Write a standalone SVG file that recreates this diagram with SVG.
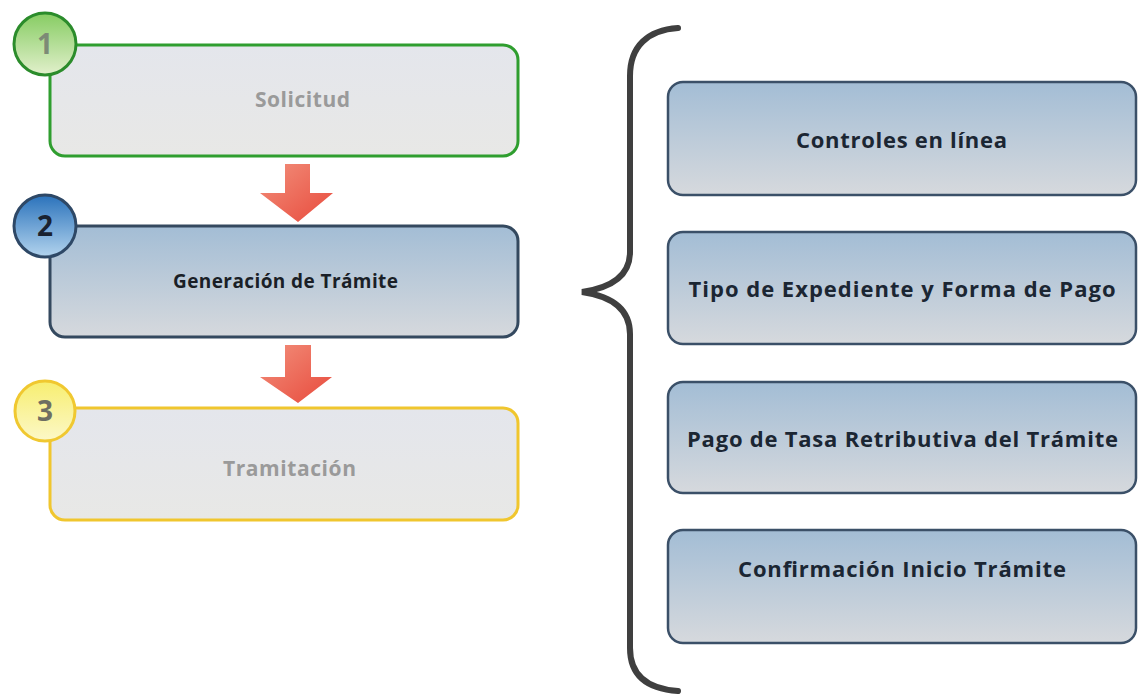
<svg xmlns="http://www.w3.org/2000/svg" width="1139" height="695" viewBox="0 0 1139 695">
<defs>
<linearGradient id="gGray" x1="0" y1="0" x2="0" y2="1"><stop offset="0" stop-color="#e4e6ec"/><stop offset="1" stop-color="#e8e8e6"/></linearGradient>
<linearGradient id="gBlue" x1="0" y1="0" x2="0" y2="1"><stop offset="0" stop-color="#a3bdd5"/><stop offset="1" stop-color="#d6d9dd"/></linearGradient>
<linearGradient id="gC1" x1="0" y1="0" x2="0" y2="1"><stop offset="0" stop-color="#86cc62"/><stop offset="1" stop-color="#e2f0cc"/></linearGradient>
<linearGradient id="gC2" x1="0" y1="0" x2="0" y2="1"><stop offset="0" stop-color="#2a72bb"/><stop offset="1" stop-color="#b3d4ee"/></linearGradient>
<linearGradient id="gC3" x1="0" y1="0" x2="0" y2="1"><stop offset="0" stop-color="#f7ee70"/><stop offset="1" stop-color="#fcf8c8"/></linearGradient>
<linearGradient id="gArrow" x1="0" y1="0" x2="1" y2="1"><stop offset="0" stop-color="#f2907c"/><stop offset="1" stop-color="#e84a3c"/></linearGradient>
</defs>
<style>
.lbl{font-family:"Open Sans","Liberation Sans",sans-serif;font-weight:700;text-anchor:middle}
.num{font-family:"Open Sans","Liberation Sans",sans-serif;font-weight:700;font-size:28px;text-anchor:middle}
.rbox{fill:url(#gBlue);stroke:#3b5068;stroke-width:2.5}
.rtxt{font-size:22px;fill:#1b2633}
.ltxt{font-size:21px}
</style>
<g id="connectors">
<path d="M285 164 H310 V193 H333 L298 222 L260 193 H285 Z" fill="url(#gArrow)"/>
<path d="M285 345 H311 V377 H332 L298 403 L260 377 H285 Z" fill="url(#gArrow)"/>
</g>
<g id="step1">
<rect x="50" y="45" width="468" height="111" rx="15" fill="url(#gGray)" stroke="#2f9e2f" stroke-width="3"/>
<circle cx="45" cy="44" r="31" fill="url(#gC1)" stroke="#2b8c2b" stroke-width="3"/>
<text class="num" x="45" y="54" fill="#7d8a76">1</text>
<text class="lbl ltxt" x="302.5" y="107" fill="#9a9a9a" textLength="95">Solicitud</text>
</g>
<g id="step2">
<rect x="50" y="226" width="468" height="111" rx="15" fill="url(#gBlue)" stroke="#34495f" stroke-width="3"/>
<circle cx="45" cy="226" r="31" fill="url(#gC2)" stroke="#2e4866" stroke-width="3"/>
<text class="num" x="45" y="236" fill="#1a2230">2</text>
<text class="lbl" x="285.5" y="288" font-size="19" fill="#1a1f27" textLength="225">Generación de Trámite</text>
</g>
<g id="step3">
<rect x="50" y="408" width="468" height="112" rx="15" fill="url(#gGray)" stroke="#f0c62e" stroke-width="3"/>
<circle cx="45" cy="411" r="30" fill="url(#gC3)" stroke="#f0c830" stroke-width="3"/>
<text class="num" x="45" y="421" fill="#6e6e62">3</text>
<text class="lbl ltxt" x="289.5" y="476" fill="#9a9a9a" textLength="133">Tramitación</text>
</g>
<g id="brace">
<path d="M678 28 C648 30 630 46 630 76 L630 252 C630 277 610 288 582 292 C610 296 630 308 630 334 L630 648 C630 676 648 689 678 691" fill="none" stroke="#3f3f3f" stroke-width="6" stroke-linecap="round"/>
</g>
<g id="r1">
<rect class="rbox" x="668" y="82" width="468" height="113" rx="15"/>
<text class="lbl rtxt" x="901.5" y="148" textLength="211">Controles en línea</text>
</g>
<g id="r2">
<rect class="rbox" x="668" y="232" width="468" height="112" rx="15"/>
<text class="lbl rtxt" x="902" y="297" textLength="427">Tipo de Expediente y Forma de Pago</text>
</g>
<g id="r3">
<rect class="rbox" x="668" y="382" width="468" height="111" rx="15"/>
<text class="lbl rtxt" x="902.5" y="447" textLength="431">Pago de Tasa Retributiva del Trámite</text>
</g>
<g id="r4">
<rect class="rbox" x="668" y="530" width="468" height="113" rx="15"/>
<text class="lbl rtxt" x="902" y="577" textLength="328">Confirmación Inicio Trámite</text>
</g>
</svg>
